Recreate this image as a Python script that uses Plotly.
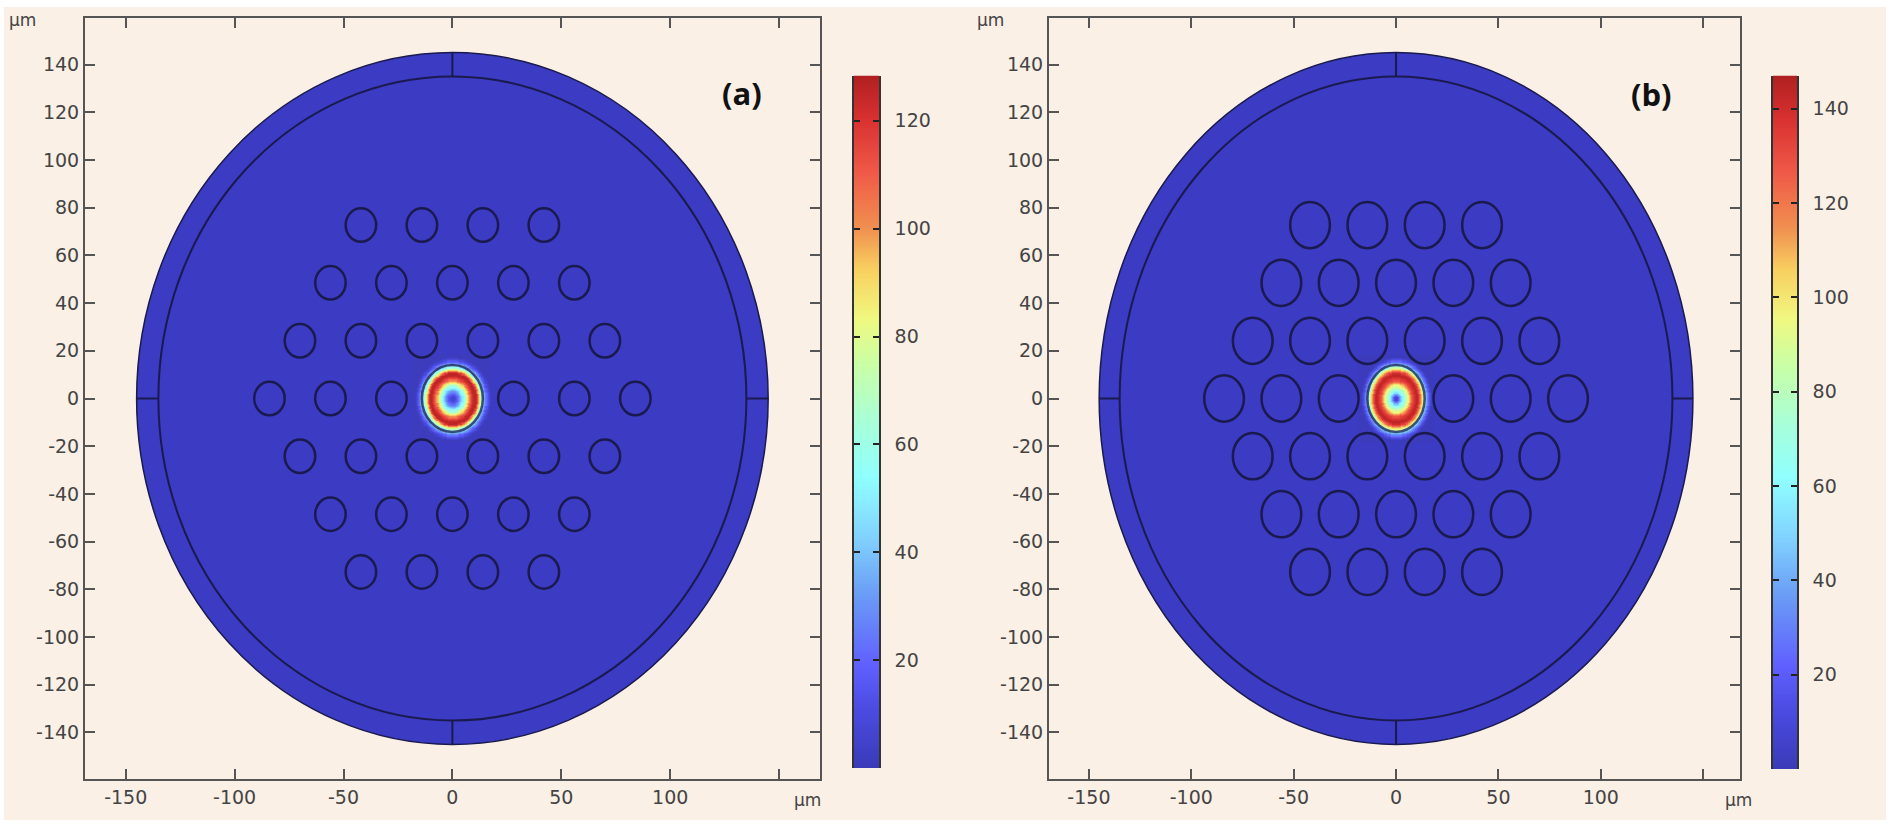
import numpy as np
import plotly.graph_objects as go

W = 1891
H = 826

# hole centres, row by row (um)
hole_y = [72.7, 48.5, 24.2, 0, -24.2, -48.5, -72.7]
hole_x = [
    [-42, -14, 14, 42],
    [-56, -28, 0, 28, 56],
    [-70, -42, -14, 14, 42, 70],
    [-84, -56, -28, 28, 56, 84],
    [-70, -42, -14, 14, 42, 70],
    [-56, -28, 0, 28, 56],
    [-42, -14, 14, 42],
]
hole_r_a = 7.0
hole_r_b = 9.7
core_r = 14
clad_r = 135
outer_r = 145

# field norm against radius, one value every 0.5 um
radius_step = 0.5
field_a = [6, 7, 9, 13, 18, 24, 30, 36, 43, 51, 58, 65, 75, 85, 93, 100, 108, 115, 120, 124, 126, 126,
           118, 104, 92, 78, 65, 52, 44, 36, 28, 20, 14, 9, 5, 2, 1]
field_b = [5, 9, 17, 28, 40, 51, 60, 68, 75, 82, 89, 95, 102, 112, 121, 128, 133, 137, 140, 143, 144, 140,
           133, 123, 112, 102, 88, 75, 55, 44, 35, 26, 18, 12, 6, 2, 1]
zmax_a = 128.4
zmax_b = 147

x_ticks = [-150, -100, -50, 0, 50, 100, 150]
x_text = ['-150', '-100', '-50', '0', '50', '100', '']
y_ticks = [-140, -120, -100, -80, -60, -40, -20, 0, 20, 40, 60, 80, 100, 120, 140]
y_text = ['-140', '-120', '-100', '-80', '-60', '-40', '-20', '0', '20', '40', '60', '80', '100', '120', '140']
cb_ticks_a = [20, 40, 60, 80, 100, 120]
cb_ticks_b = [20, 40, 60, 80, 100, 120, 140]

scale = [
    [0.00, '#3a3ab8'], [0.08, '#4a4ae0'], [0.15, '#6060ff'], [0.25, '#6a9cf5'],
    [0.33, '#80d0ff'], [0.42, '#90ffff'], [0.50, '#a8ffd8'], [0.58, '#c8ffa8'],
    [0.65, '#f0f880'], [0.72, '#f8d060'], [0.78, '#f09050'], [0.86, '#f05a48'],
    [0.94, '#d83030'], [1.00, '#b02020'],
]

CREAM = '#fbf0e6'
DISC = '#3b3bc3'
EDGE = '#1a1a4e'
AXIS = '#555555'
TEXT = '#444444'


def radial_field(values):
    # each grid cell takes the profile value of its nearest radius, plotly smooths the rest
    grid = np.arange(-18, 18.25, radius_step)
    xx, yy = np.meshgrid(grid, grid)
    idx = np.clip(np.rint(np.hypot(xx, yy) / radius_step).astype(int), 0, len(values) - 1)
    return grid, np.array(values)[idx]


def ring(ax, ay, r, **kw):
    return dict(type='circle', xref=ax, yref=ay, x0=-r, x1=r, y0=-r, y1=r, **kw)


def panel_shapes(ax, ay, hole_r):
    out = []
    out.append(ring(ax, ay, outer_r, fillcolor=DISC, line=dict(color=EDGE, width=1.5), layer='below'))
    out.append(ring(ax, ay, clad_r, line=dict(color=EDGE, width=2), layer='above'))
    for a, b in [(clad_r, outer_r), (-outer_r, -clad_r)]:
        out.append(dict(type='line', xref=ax, yref=ay, x0=a, x1=b, y0=0, y1=0, line=dict(color=EDGE, width=2)))
        out.append(dict(type='line', xref=ax, yref=ay, x0=0, x1=0, y0=a, y1=b, line=dict(color=EDGE, width=2)))
    out.append(ring(ax, ay, core_r, line=dict(color=EDGE, width=2.5), layer='above', opacity=0.75))
    for yv, row in zip(hole_y, hole_x):
        for xv in row:
            out.append(dict(type='circle', xref=ax, yref=ay, x0=xv - hole_r, x1=xv + hole_r,
                            y0=yv - hole_r, y1=yv + hole_r, line=dict(color=EDGE, width=2.5), layer='above'))
    return out


def px_x(left, right):
    return [left / W, right / W]


def px_y(top, bottom):
    return [1 - bottom / H, 1 - top / H]


tickfont = dict(family='DejaVu Sans', size=19, color=TEXT)


def main_x(left, right, rng, anchor):
    return dict(domain=px_x(left, right), range=rng, anchor=anchor, tickmode='array', tickvals=x_ticks,
                ticktext=x_text, ticks='inside', ticklen=10, tickwidth=2, tickcolor=AXIS, showline=True,
                linecolor=AXIS, linewidth=2, mirror='allticks', showgrid=False, zeroline=False, tickfont=tickfont)


def main_y(top, bottom, rng, anchor):
    return dict(domain=px_y(top, bottom), range=rng, anchor=anchor, tickmode='array', tickvals=y_ticks,
                ticktext=y_text, ticks='inside', ticklen=10, tickwidth=2, tickcolor=AXIS, showline=True,
                linecolor=AXIS, linewidth=2, mirror='allticks', showgrid=False, zeroline=False, tickfont=tickfont)


def bar_x(left, right, anchor):
    return dict(domain=px_x(left, right), range=[0, 1], anchor=anchor, visible=False, fixedrange=True)


def bar_y(top, bottom, zmax, ticks, anchor):
    return dict(domain=px_y(top, bottom), range=[0, zmax], anchor=anchor, side='right', tickmode='array',
                tickvals=ticks, ticks='inside', ticklen=6, tickwidth=2, tickcolor='#222222', showline=True,
                linecolor='#333333', linewidth=1.5, mirror='allticks', showgrid=False, zeroline=False,
                tickfont=tickfont, ticklabelstandoff=10)


fig = go.Figure()

grid, z = radial_field(field_a)
fig.add_trace(go.Heatmap(x=grid, y=grid, z=z, zmin=0, zmax=zmax_a, colorscale=scale, zsmooth='best',
                         showscale=False, xaxis='x', yaxis='y'))
grid, z = radial_field(field_b)
fig.add_trace(go.Heatmap(x=grid, y=grid, z=z, zmin=0, zmax=zmax_b, colorscale=scale, zsmooth='best',
                         showscale=False, xaxis='x2', yaxis='y2'))

for zmax, xa, ya in [(zmax_a, 'x3', 'y3'), (zmax_b, 'x4', 'y4')]:
    levels = np.linspace(0, zmax, 200)
    fig.add_trace(go.Heatmap(x=[0, 1], y=levels, z=[[v, v] for v in levels], zmin=0, zmax=zmax,
                             colorscale=scale, zsmooth='best', showscale=False, xaxis=xa, yaxis=ya))

shapes = [dict(type='rect', xref='paper', yref='paper', x0=4 / W, x1=1886 / W, y0=1 - 820 / H, y1=1 - 7 / H,
               fillcolor=CREAM, line_width=0, layer='below')]
shapes += panel_shapes('x', 'y', hole_r_a)
shapes += panel_shapes('x2', 'y2', hole_r_b)


def note(text, x, y, size=17, color=TEXT, family='DejaVu Sans'):
    return dict(text=text, xref='paper', yref='paper', x=x / W, y=1 - y / H, showarrow=False,
                xanchor='center', yanchor='middle', font=dict(family=family, size=size, color=color))


annotations = [
    note('µm', 22, 20), note('µm', 807, 800),
    note('µm', 990, 20), note('µm', 1738, 800),
    note('<b>(a)</b>', 742, 93, size=31, color='#111111', family='Open Sans'),
    note('<b>(b)</b>', 1651, 94, size=31, color='#111111', family='Open Sans'),
]

fig.update_layout(
    width=W, height=H,
    margin=dict(l=0, r=0, t=0, b=0),
    paper_bgcolor='white', plot_bgcolor='rgba(0,0,0,0)',
    showlegend=False,
    shapes=shapes, annotations=annotations,
    xaxis=main_x(85, 820, [-168.7, 168.8], 'y'),
    yaxis=main_y(18, 779, [-159.5, 159.5], 'x'),
    xaxis2=main_x(1049, 1740, [-169.5, 168], 'y2'),
    yaxis2=main_y(18, 779, [-159.5, 159.5], 'x2'),
    xaxis3=bar_x(854, 879, 'y3'),
    yaxis3=bar_y(75.5, 768, zmax_a, cb_ticks_a, 'x3'),
    xaxis4=bar_x(1773, 1797, 'y4'),
    yaxis4=bar_y(75.5, 769, zmax_b, cb_ticks_b, 'x4'),
)

fig.write_html('out.html', config={'displayModeBar': False}, post_script="document.body.style.margin='0';")
